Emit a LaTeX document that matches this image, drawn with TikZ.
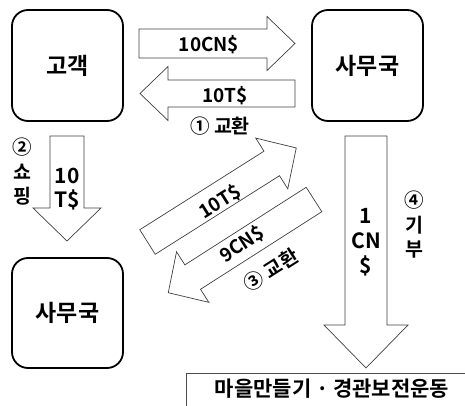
\documentclass[tikz,border=0pt]{standalone}
\usepackage{fontspec}
\setmainfont{Noto Sans CJK KR}[BoldFont={Noto Sans CJK KR Bold}]
\begin{document}
\begin{tikzpicture}[x=1pt,y=-1pt,
  box/.style={draw=black,line width=1.8pt,rounded corners=16pt},
  fat/.style={draw=black!75,fill=white,line width=0.7pt,line join=miter},
  lbl/.style={font=\bfseries\fontsize{19}{22}\selectfont,inner sep=0pt},
  vlbl/.style={font=\bfseries\fontsize{21}{24}\selectfont,inner sep=0pt,align=center},
  slbl/.style={font=\bfseries\fontsize{19.5}{24.5}\selectfont,inner sep=0pt,align=center},
  big/.style={font=\bfseries\fontsize{23}{26}\selectfont,inner sep=0pt}]
\newcommand\fatarrow[6]{%
  \draw[fat,shift={#1},rotate=#2] (0,-#4) -- ({#3-#6},-#4) -- ({#3-#6},-#5) -- (#3,0)
    -- ({#3-#6},#5) -- ({#3-#6},#4) -- (0,#4) -- cycle;}
\useasboundingbox (0,0) rectangle (465,406);
% boxes
\draw[box] (12,10) rectangle (123,121);
\node[big] (customer) at (67.5,66) {고객};
\draw[box] (312,10) rectangle (423,121);
\node[big] (office1) at (367.5,66) {사무국};
\draw[box] (12,258) rectangle (123,368);
\node[big] (office2) at (67.5,313) {사무국};
% arrows
\fatarrow{(139,43.5)}{0}{156}{14.5}{27}{28}
\fatarrow{(295,93.5)}{180}{155}{13.5}{27}{28}
\fatarrow{(67,136)}{-90}{105}{17}{34}{33}
\fatarrow{(366,136)}{-90}{232}{21}{42}{43}
\fatarrow{(147.5,242)}{32.3}{176}{14.5}{30}{29}
\fatarrow{(314,199.5)}{212.6}{173}{14.5}{30}{29}
% labels
\node[lbl] (l1) at (209,45) {10CN\$};
\node[lbl] (l2) at (225,96) {10T\$};
\node[slbl] (l3) at (220,126) {① 교환};
\node[slbl] (l4) at (22,172) {②\\쇼\\핑};
\node[vlbl] (l5) at (67,189) {10\\T\$};
\node[lbl,rotate=32.3] (l6) at (220,202) {10T\$};
\node[lbl,rotate=32.6] (l7) at (242,244) {9CN\$};
\node[slbl,rotate=32.6] (l8) at (271,270) {③ 교환};
\node[vlbl,align=center,font=\bfseries\fontsize{21}{25}\selectfont] (l9) at (366,242) {1\\CN\\\$};
\node[slbl] (l10) at (414,225) {④\\기\\부};
% bottom box
\node[font=\bfseries\fontsize{21}{24}\selectfont,inner sep=0pt] (town) at (332,389) {마을만들기 · 경관보전운동};
\draw[black!70,line width=0.6pt] (465,373) -- (186,373) -- (186,406);
\end{tikzpicture}
\end{document}
